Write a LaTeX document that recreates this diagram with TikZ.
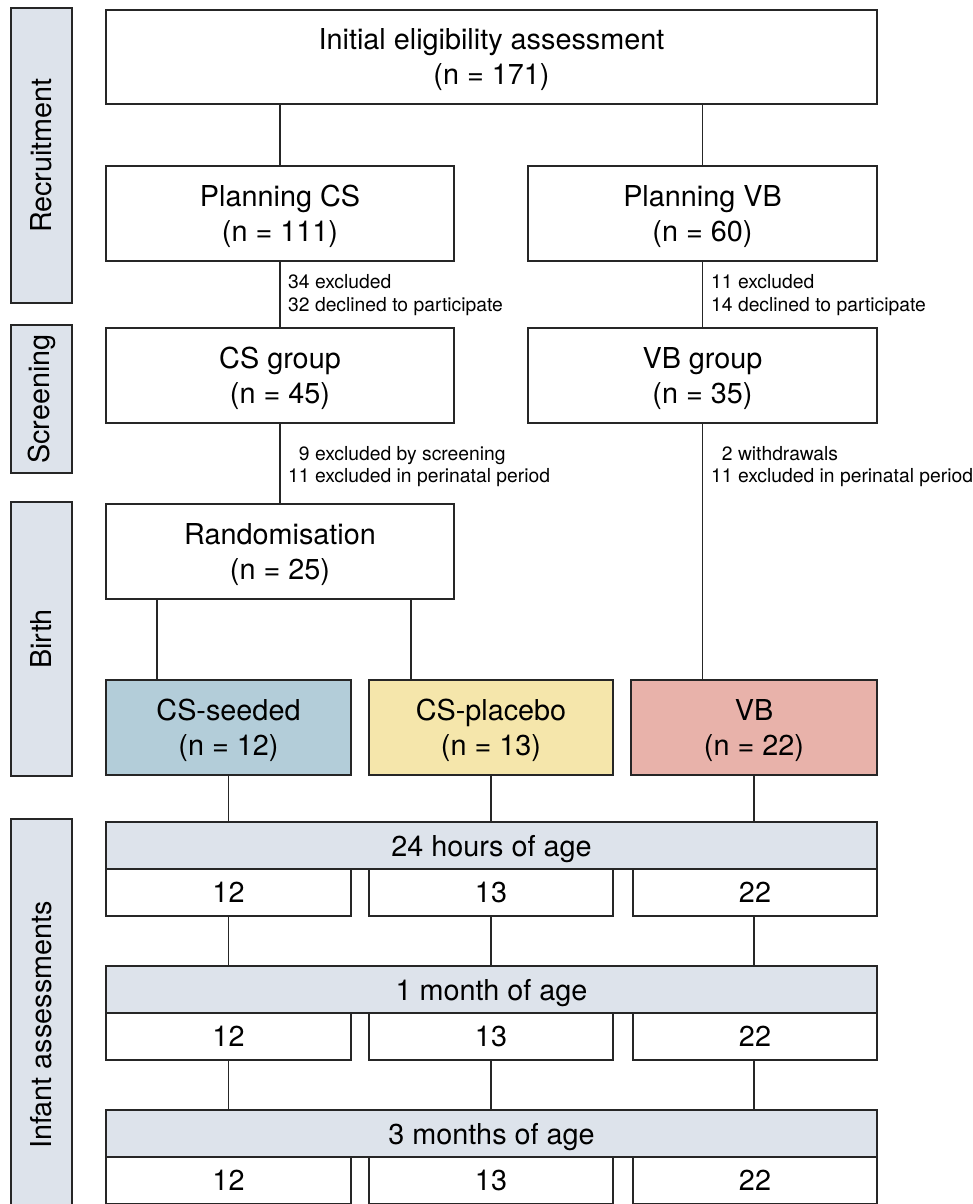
\documentclass[tikz,border=0pt]{standalone}
\usepackage{fontspec}
\setmainfont{TeX Gyre Heros}
\definecolor{barfill}{HTML}{DDE3EB}
\definecolor{seedfill}{HTML}{B3CDD9}
\definecolor{placfill}{HTML}{F5E6AB}
\definecolor{vbfill}{HTML}{E8B2AA}
\definecolor{edge}{HTML}{262626}
\begin{document}
\begin{tikzpicture}[x=1pt,y=-1pt,
  box/.style={draw=edge, line width=1.7pt, fill=white, align=center, inner sep=0pt,
    text depth=0pt, font=\fontsize{28.8}{35}\selectfont},
  side/.style={draw=edge, line width=1.7pt, fill=barfill, inner sep=0pt,
    minimum width=61pt, font=\fontsize{28.8}{35}\selectfont},
  sidetext/.style={rotate=90, font=\fontsize{28.8}{35}\selectfont},
  agebar/.style={draw=edge, line width=1.7pt, fill=barfill, inner sep=0pt,
    text depth=0pt, minimum width=771pt, minimum height=47pt, font=\fontsize{28.8}{35}\selectfont},
  numbox/.style={draw=edge, line width=1.7pt, fill=white, inner sep=0pt,
    minimum height=47pt, font=\fontsize{28.8}{35}\selectfont},
  note/.style={anchor=west, align=left, inner sep=0pt, font=\fontsize{19.3}{22.5}\selectfont},
  conn/.style={draw=edge, line width=1.8pt}]
\useasboundingbox (0,0) rectangle (972,1204);
\clip (0,0) rectangle (972,1204);
% side bars
\node[side, minimum height=295pt] (recr) at (41.5,155.5) {};
\node[sidetext] (recrt) at (recr.center) {Recruitment};
\node[side, minimum height=148pt] (scr) at (41.5,399) {};
\node[sidetext] (scrt) at (scr.center) {Screening};
\node[side, minimum height=274pt] (birth) at (41.5,639) {};
\node[sidetext] (birtht) at (birth.center) {Birth};
\node[side, minimum height=412pt] (inf) at (41.5,1025) {};
\node[sidetext] (inft) at (inf.center) {Infant assessments};
% boxes
\node[box, minimum width=771pt, minimum height=94pt] (init) at (491.5,57) {Initial eligibility assessment\\(n = 171)};
\node[box, minimum width=348pt, minimum height=95pt] (pcs) at (280,213.5) {Planning CS\\(n = 111)};
\node[box, minimum width=349pt, minimum height=95pt] (pvb) at (702.5,213.5) {Planning VB\\(n = 60)};
\node[box, minimum width=348pt, minimum height=95pt] (csg) at (280,375.5) {CS group\\(n = 45)};
\node[box, minimum width=349pt, minimum height=95pt] (vbg) at (702.5,375.5) {VB group\\(n = 35)};
\node[box, minimum width=348pt, minimum height=95pt] (rand) at (280,551.5) {Randomisation\\(n = 25)};
\node[box, fill=seedfill, minimum width=245pt, minimum height=95pt] (seed) at (228.5,727.5) {CS-seeded\\(n = 12)};
\node[box, fill=placfill, minimum width=244pt, minimum height=95pt] (plac) at (491,727.5) {CS-placebo\\(n = 13)};
\node[box, fill=vbfill, minimum width=246pt, minimum height=95pt] (vb) at (754,727.5) {VB\\(n = 22)};
% age rows
\node[agebar] (a1) at (491.5,845.5) {24 hours of age};
\node[numbox, minimum width=245pt] (a1s) at (228.5,892.5) {12};
\node[numbox, minimum width=244pt] (a1p) at (491,892.5) {13};
\node[numbox, minimum width=244pt] (a1v) at (755,892.5) {22};
\node[agebar] (a2) at (491.5,989.5) {1 month of age};
\node[numbox, minimum width=245pt] (a2s) at (228.5,1036.5) {12};
\node[numbox, minimum width=244pt] (a2p) at (491,1036.5) {13};
\node[numbox, minimum width=244pt] (a2v) at (755,1036.5) {22};
\node[agebar] (a3) at (491.5,1133.5) {3 months of age};
\node[numbox, minimum width=245pt] (a3s) at (228.5,1180.5) {12};
\node[numbox, minimum width=244pt] (a3p) at (491,1180.5) {13};
\node[numbox, minimum width=244pt] (a3v) at (755,1180.5) {22};
% connectors
\draw[conn] (init.south -| pcs.north) -- (pcs.north);
\draw[conn] (init.south -| vbg.north) -- (pvb.north);
\draw[conn] (pcs.south) -- (csg.north);
\draw[conn] (pvb.south) -- (vbg.north);
\draw[conn] (csg.south) -- (rand.north);
\draw[conn] (vbg.south) -- (vbg.south |- vb.north);
\draw[conn] (rand.south -| 157,0) coordinate (r1) -- (r1 |- seed.north);
\draw[conn] (rand.south -| 411,0) coordinate (r2) -- (r2 |- plac.north);
\draw[conn] (seed.south) -- (seed.south |- a1.north);
\draw[conn] (plac.south) -- (plac.south |- a1.north);
\draw[conn] (vb.south) -- (vb.south |- a1.north);
\draw[conn] (a1s.south -| seed.south) -- (seed.south |- a2.north);
\draw[conn] (a1p.south -| plac.south) -- (plac.south |- a2.north);
\draw[conn] (a1v.south -| vb.south) -- (vb.south |- a2.north);
\draw[conn] (a2s.south -| seed.south) -- (seed.south |- a3.north);
\draw[conn] (a2p.south -| plac.south) -- (plac.south |- a3.north);
\draw[conn] (a2v.south -| vb.south) -- (vb.south |- a3.north);
% notes
\node[note] (n1) at (288,295) {34 excluded\\32 declined to participate};
\node[note] (n2) at (711,295) {11 excluded\\14 declined to participate};
\node[note] (n3) at (288,466.5) {\phantom{1}9 excluded by screening\\11 excluded in perinatal period};
\node[note] (n4) at (711,466.5) {\phantom{1}2 withdrawals\\11 excluded in perinatal period};
\end{tikzpicture}
\end{document}
